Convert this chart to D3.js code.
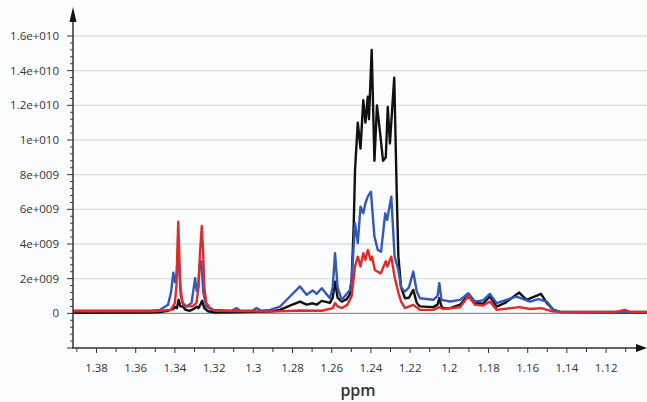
<!DOCTYPE html>
<html lang="en">
<head>
<meta charset="UTF-8">
<title>NMR spectrum</title>
<script src="https://cdn.jsdelivr.net/npm/d3@7"></script>
<style>
  body { margin: 0; background: #fbfcfe; }
  svg { display: block; font-family: "Open Sans", "Noto Sans", sans-serif; }
</style>
</head>
<body>
<svg id="chart" width="647" height="402"></svg>
<script>
// y values are in units of 1e9
var yTicks = [0, 2, 4, 6, 8, 10, 12, 14, 16];
var yTickLabels = ["0", "2e+009", "4e+009", "6e+009", "8e+009", "1e+010", "1.2e+010", "1.4e+010", "1.6e+010"];
var xTicks = [1.38, 1.36, 1.34, 1.32, 1.3, 1.28, 1.26, 1.24, 1.22, 1.2, 1.18, 1.16, 1.14, 1.12];
var xTickLabels = ["1.38", "1.36", "1.34", "1.32", "1.3", "1.28", "1.26", "1.24", "1.22", "1.2", "1.18", "1.16", "1.14", "1.12"];

var blackSeries = [
  [1.392,0.03],[1.3527,0.05],[1.3476,0.08],[1.3435,0.15],[1.3408,0.25],[1.3399,0.37],[1.3390,0.3],
  [1.3381,0.78],[1.3372,0.4],[1.3360,0.4],[1.3345,0.2],[1.3323,0.15],[1.3297,0.3],[1.3289,0.39],
  [1.3280,0.3],[1.3270,0.5],[1.3261,0.72],[1.3250,0.3],[1.3231,0.12],[1.3195,0.05],[1.2915,0.1],
  [1.2864,0.2],[1.2813,0.45],[1.2762,0.68],[1.2728,0.5],[1.2697,0.58],[1.2677,0.5],[1.2651,0.72],
  [1.2609,0.6],[1.2595,0.9],[1.2583,1.83],[1.2570,0.9],[1.2549,0.68],[1.2525,0.8],[1.2507,1.1],
  [1.2498,2.0],[1.2488,5.0],[1.2481,8.27],[1.2467,11.0],[1.2453,9.5],[1.2439,12.3],[1.2428,11.0],
  [1.2416,12.5],[1.2410,11.2],[1.2396,15.2],[1.2382,8.8],[1.2369,12.0],[1.2354,10.5],[1.2338,8.8],
  [1.2324,9.0],[1.2314,11.9],[1.2303,9.8],[1.2281,13.6],[1.2268,6.8],[1.2260,3.3],[1.2246,1.5],
  [1.2226,0.87],[1.2206,0.9],[1.2184,1.35],[1.2166,0.6],[1.2150,0.4],[1.2082,0.36],[1.2060,0.5],
  [1.2051,0.87],[1.2040,0.4],[1.2032,0.3],[1.1996,0.3],[1.1945,0.5],[1.1903,1.07],[1.1869,0.6],
  [1.1828,0.55],[1.1793,0.97],[1.1758,0.39],[1.1716,0.6],[1.1643,1.2],[1.1606,0.78],[1.1532,1.12],
  [1.1503,0.6],[1.1469,0.2],[1.1435,0.08],[1.0991,0.05]
];

var blueSeries = [
  [1.392,0.15],[1.3527,0.15],[1.3476,0.2],[1.3435,0.5],[1.3420,1.2],[1.3408,2.35],[1.3400,1.8],
  [1.3392,2.2],[1.3385,3.3],[1.3378,2.5],[1.3370,1.0],[1.3355,0.45],[1.3340,0.4],[1.3315,0.6],
  [1.3297,2.03],[1.3289,1.3],[1.3281,1.5],[1.3274,2.8],[1.3265,3.0],[1.3255,1.2],[1.3240,0.4],
  [1.3210,0.2],[1.3110,0.15],[1.3085,0.3],[1.3065,0.15],[1.3005,0.15],[1.2983,0.3],[1.2960,0.15],
  [1.2915,0.2],[1.2864,0.39],[1.2813,0.97],[1.2762,1.55],[1.2728,1.07],[1.2697,1.32],[1.2677,1.12],
  [1.2651,1.45],[1.2609,0.87],[1.2595,1.5],[1.2583,3.47],[1.2570,1.5],[1.2549,0.78],[1.2507,1.35],
  [1.2498,1.93],[1.2481,5.2],[1.2467,4.05],[1.2453,6.15],[1.2439,5.77],[1.2428,6.35],[1.2416,6.73],
  [1.2400,7.02],[1.2382,4.43],[1.2365,3.66],[1.2348,3.56],[1.2327,5.77],[1.2317,5.39],[1.2296,6.73],
  [1.2279,3.27],[1.2260,2.5],[1.2246,1.5],[1.2226,1.26],[1.2206,1.5],[1.2184,2.41],[1.2166,1.26],
  [1.2150,0.87],[1.2082,0.78],[1.2060,1.0],[1.2051,1.74],[1.2040,0.78],[1.1996,0.68],[1.1945,0.78],
  [1.1903,1.16],[1.1869,0.68],[1.1828,0.75],[1.1793,1.12],[1.1758,0.59],[1.1716,0.75],[1.1657,0.97],
  [1.1588,0.68],[1.1546,0.82],[1.1503,0.68],[1.1469,0.2],[1.1435,0.1],[1.0991,0.08]
];

var redSeries = [
  [1.392,0.12],[1.3527,0.12],[1.3476,0.15],[1.3420,0.2],[1.3400,0.6],[1.3392,1.6],[1.3388,3.5],
  [1.3383,5.29],[1.3378,3.5],[1.3372,1.5],[1.3362,0.6],[1.3340,0.4],[1.3310,0.4],[1.3290,0.6],
  [1.3280,1.5],[1.3272,3.5],[1.3263,5.04],[1.3256,3.5],[1.3250,1.5],[1.3240,0.6],[1.3220,0.3],
  [1.3195,0.15],[1.2915,0.1],[1.2762,0.16],[1.2650,0.15],[1.2595,0.3],[1.2583,0.59],[1.2570,0.4],
  [1.2549,0.3],[1.2520,0.5],[1.2498,1.0],[1.2481,2.7],[1.2467,3.27],[1.2453,2.7],[1.2439,3.47],
  [1.2428,3.08],[1.2416,3.66],[1.2402,3.08],[1.2394,3.27],[1.2380,2.5],[1.2350,2.3],[1.2324,3.0],
  [1.2316,2.7],[1.2296,3.27],[1.2279,2.1],[1.2260,1.2],[1.2246,0.68],[1.2226,0.3],[1.2184,0.49],
  [1.2150,0.2],[1.2082,0.2],[1.2051,0.36],[1.2032,0.25],[1.1945,0.35],[1.1903,1.0],[1.1869,0.5],
  [1.1828,0.45],[1.1793,0.68],[1.1758,0.2],[1.1643,0.36],[1.1588,0.25],[1.1532,0.3],[1.1469,0.1],
  [1.1150,0.08],[1.1104,0.2],[1.1080,0.08],[1.0991,0.08]
];

var svg = d3.select("#chart");
var W = 647, H = 402;

var x = d3.scaleLinear().domain([1.392, 1.1]).range([73, 645.3]);
var y = d3.scaleLinear().domain([-2, 16]).range([348, 36]);

var axisColor = "#333";

// grid lines
svg.append("g").selectAll("line")
  .data(yTicks.filter(function(d) { return d > 0; }))
  .enter().append("line")
  .attr("x1", x.range()[0]).attr("x2", W)
  .attr("y1", function(d) { return y(d); }).attr("y2", function(d) { return y(d); })
  .attr("stroke", "#dedede").attr("stroke-width", 1.3);

// zero line
svg.append("line")
  .attr("x1", x.range()[0]).attr("x2", W)
  .attr("y1", y(0)).attr("y2", y(0))
  .attr("stroke", "#777").attr("stroke-width", 1);

// spectra
var line = d3.line()
  .x(function(d) { return x(d[0]); })
  .y(function(d) { return y(d[1]); });

var series = [
  {data: blackSeries, color: "#111111"},
  {data: blueSeries, color: "#3557b7"},
  {data: redSeries, color: "#e02b2b"}
];
svg.append("g").selectAll("path")
  .data(series)
  .enter().append("path")
  .attr("d", function(s) { return line(s.data); })
  .attr("fill", "none")
  .attr("stroke", function(s) { return s.color; })
  .attr("stroke-width", 2.4)
  .attr("stroke-linejoin", "round");

// y axis
var yAxisX = x.range()[0];
svg.append("line")
  .attr("x1", yAxisX).attr("x2", yAxisX)
  .attr("y1", y.range()[0]).attr("y2", 18)
  .attr("stroke", axisColor).attr("stroke-width", 1.5);
svg.append("path")
  .attr("d", "M" + yAxisX + ",7 L" + (yAxisX - 3.5) + ",22 L" + (yAxisX + 3.5) + ",22 Z")
  .attr("fill", "#111");

var yMinor = d3.range(-2, 16.01, 0.4);
svg.append("g").selectAll("line")
  .data(yMinor)
  .enter().append("line")
  .attr("x1", function(d) { return Math.abs(d / 2 - Math.round(d / 2)) < 1e-6 ? yAxisX - 6 : yAxisX - 3; })
  .attr("x2", yAxisX)
  .attr("y1", function(d) { return y(d); }).attr("y2", function(d) { return y(d); })
  .attr("stroke", axisColor).attr("stroke-width", 1);

svg.append("g").selectAll("text")
  .data(yTicks)
  .enter().append("text")
  .attr("x", 59)
  .attr("y", function(d) { return y(d) + 4; })
  .attr("text-anchor", "end")
  .attr("font-size", 11.5)
  .attr("fill", axisColor)
  .text(function(d, i) { return yTickLabels[i]; });

// x axis
var xAxisY = y.range()[0];
svg.append("line")
  .attr("x1", yAxisX - 0.75).attr("x2", 638)
  .attr("y1", xAxisY).attr("y2", xAxisY)
  .attr("stroke", axisColor).attr("stroke-width", 1.5);
svg.append("path")
  .attr("d", "M647," + xAxisY + " L636," + (xAxisY - 4) + " L636," + (xAxisY + 4) + " Z")
  .attr("fill", "#111");

var xMinor = d3.range(1.39, 1.105, -0.01);
svg.append("g").selectAll("line")
  .data(xMinor)
  .enter().append("line")
  .attr("x1", function(d) { return x(d); }).attr("x2", function(d) { return x(d); })
  .attr("y1", xAxisY)
  .attr("y2", function(d) { return Math.abs(d * 50 - Math.round(d * 50)) < 1e-6 ? xAxisY + 5 : xAxisY + 4; })
  .attr("stroke", axisColor).attr("stroke-width", 1);

svg.append("g").selectAll("text")
  .data(xTicks)
  .enter().append("text")
  .attr("x", function(d) { return x(d); })
  .attr("y", 372)
  .attr("text-anchor", "middle")
  .attr("font-size", 11.5)
  .attr("fill", axisColor)
  .text(function(d, i) { return xTickLabels[i]; });

svg.append("text")
  .attr("x", 358).attr("y", 396)
  .attr("text-anchor", "middle")
  .attr("font-size", 16)
  .attr("font-weight", 600)
  .attr("fill", axisColor)
  .text("ppm");
</script>
</body>
</html>
